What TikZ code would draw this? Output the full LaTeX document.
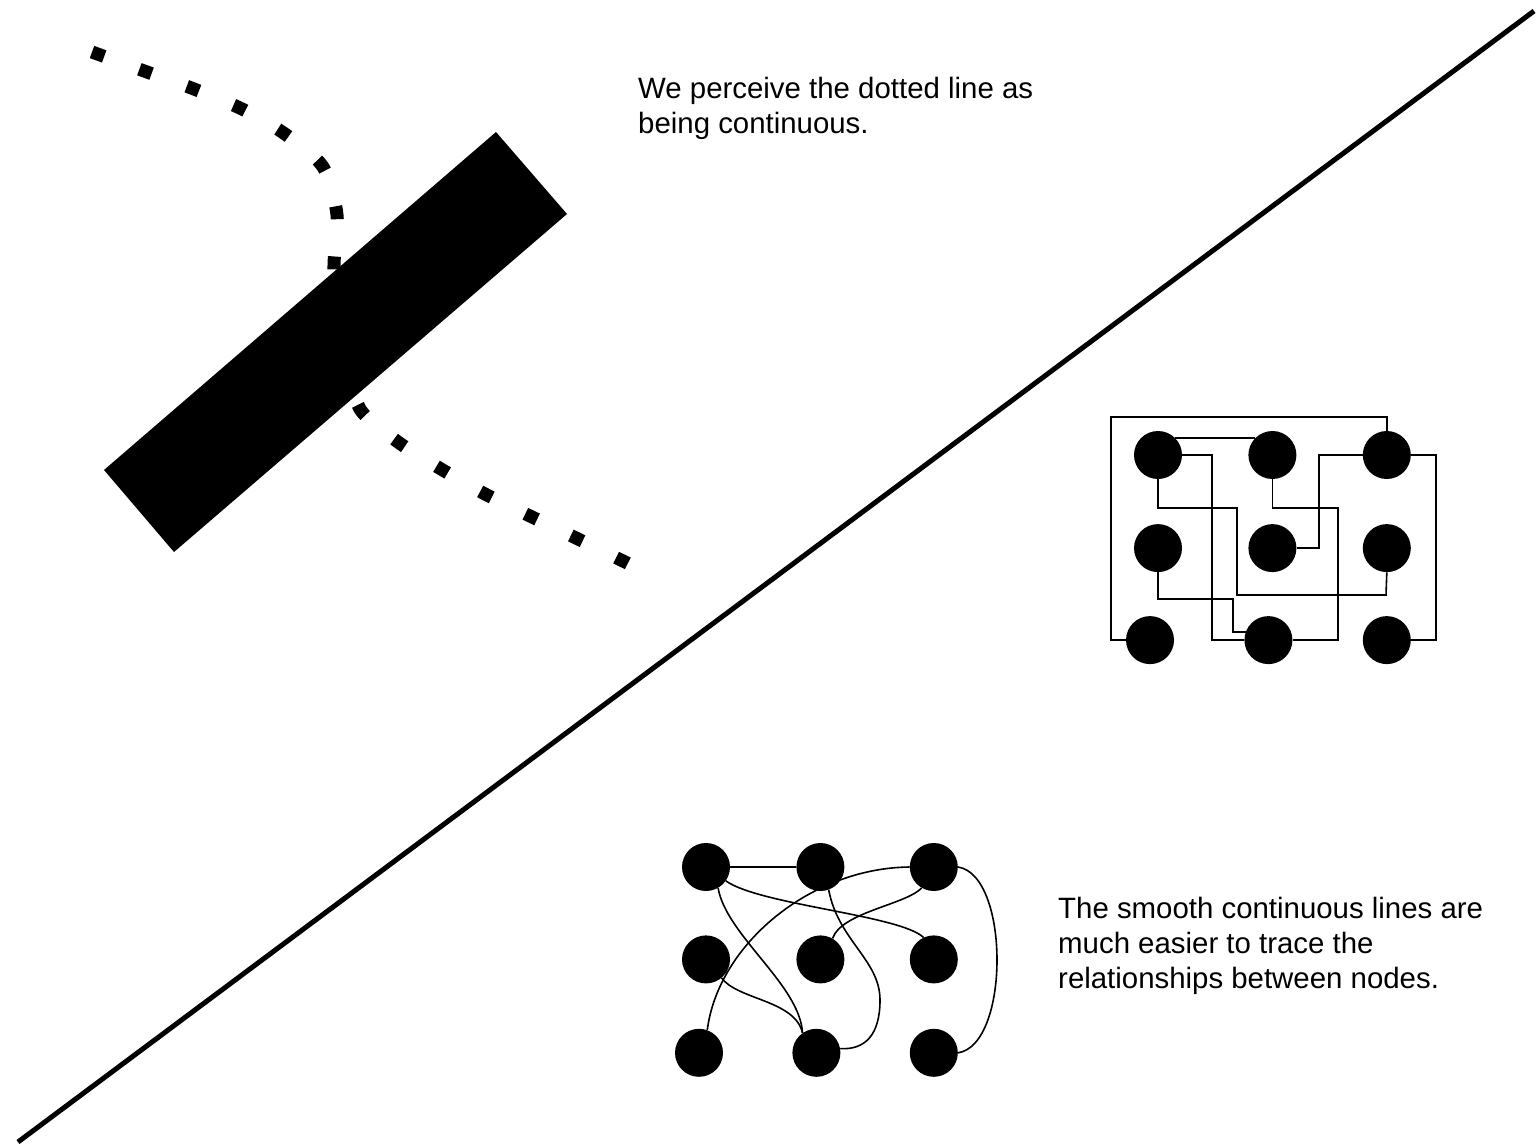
\documentclass[tikz,border=0pt]{standalone}
\usepackage{fontspec}
\setmainfont{Liberation Sans}
\usepackage{tikz}
\usetikzlibrary{positioning}

\begin{document}
\begin{tikzpicture}[x=1pt, y=-1pt,
    blob/.style={circle, fill=black, minimum size=48pt, inner sep=0pt},
    wire/.style={line width=1.6pt, line join=miter},
    remark/.style={anchor=base west, align=left, inner sep=0pt, font=\fontsize{29.4}{34.6}\selectfont}]
    \useasboundingbox (0,0) rectangle (1538,1146);

    % dotted line, partly hidden by the bar
    \draw[line width=13pt, dash pattern=on 13pt off 37.4pt] plot[smooth] coordinates {(92,52) (147,72) (194,89) (242,109) (285,134) (323,167) (337,215) (334,265) (336,315) (349,363) (360,409) (398,442) (441,469) (485,494) (530,516) (576,538) (621,560) (629,564)};
    \fill (496,132) -- (567,214) -- (174,552) -- (104,470) -- cycle;

    % dividing line
    \draw[line width=5pt] (18,1142) -- (1534,11);

    \node[remark] (top) at (638,133) {We perceive the dotted line as\\being continuous.};
    \node[remark] (bottom) at (1058,988) {The smooth continuous lines are\\much easier to trace the\\relationships between nodes.};

    % grid with right-angled wires
    \node[blob] (o11) at (1158,455) {};
    \node[blob, right=66pt of o11] (o12) {};
    \node[blob, right=66pt of o12] (o13) {};
    \node[blob, below=44.7pt of o11] (o21) {};
    \node[blob, right=66pt of o21] (o22) {};
    \node[blob, right=66pt of o22] (o23) {};
    \node[blob, below=43.6pt of o21, xshift=-8pt] (o31) {};
    \node[blob, right=70pt of o31] (o32) {};
    \node[blob, right=70pt of o32] (o33) {};

    \draw[wire] (o13.north) |- (1111,417) |- (o31.west);
    \draw[wire] (o11.45) -- (o12.135);
    \draw[wire] (o11.east) -| (1212,455) |- (o32.west);
    \draw[wire] (o11.south) |- (1237,508) |- (1386,595) -- (o23.south);
    \draw[wire] (o12.south) |- (1338,508) |- (o32.east);
    \draw[wire] (o22.east) -| (1319,455) -- (o13.west);
    \draw[wire] (o13.east) -- (1436,455) |- (o33.east);
    \draw[wire] (o21.south) |- (1233,599) |- (o32.160);

    % grid with smooth wires
    \node[blob] (s11) at (706,867) {};
    \node[blob, right=66pt of s11] (s12) {};
    \node[blob, right=65pt of s12] (s13) {};
    \node[blob, below=44pt of s11] (s21) {};
    \node[blob, right=66pt of s21] (s22) {};
    \node[blob, right=65pt of s22] (s23) {};
    \node[blob, below=45pt of s21, xshift=-7pt] (s31) {};
    \node[blob, right=69pt of s31] (s32) {};
    \node[blob, right=69pt of s32] (s33) {};

    \draw[wire] (s11) -- (s12);
    \draw[wire] (s31.70) .. controls (718,945) and (810,868) .. (s13.west);
    \draw[wire] (s11.-35) .. controls (760,905) and (900,915) .. (s23.115);
    \draw[wire] (s11.-60) .. controls (726,935) and (800,985) .. (s32.125);
    \draw[wire] (s21.-50) .. controls (738,1000) and (795,1000) .. (s32.125);
    \draw[wire] (s13.-120) .. controls (905,905) and (842,912) .. (s22.60);
    \draw[wire] (s12.-70) .. controls (838,940) and (880,960) .. (880,1000) .. controls (880,1035) and (865,1050) .. (s32.10);
    \draw[wire] (s13.east) .. controls (1010,875) and (1010,1045) .. (s33.east);
\end{tikzpicture}
\end{document}
